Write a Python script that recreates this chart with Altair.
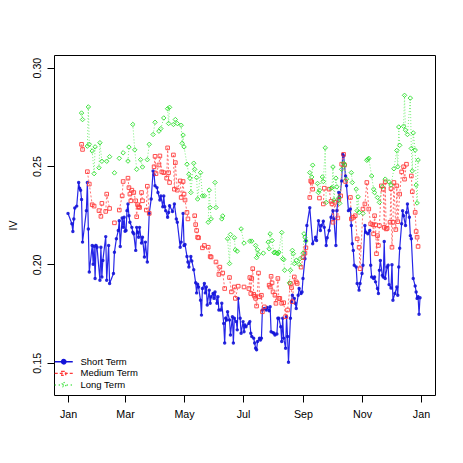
import altair as alt
import pandas as pd

# ---------------- data (day offset from 1 Jan, implied volatility) ----------------
series_names = ["Short Term", "Medium Term", "Long Term"]

short_days = [0,4,5,6,7,9,11,12,13,14,15,19,20,21,22,25,26,27,28,29,30,33,34,35,36,39,40,42,43,47,
              48,50,52,53,54,56,57,58,59,60,61,62,63,64,66,67,68,70,71,72,73,74,76,77,79,80,82,84,86,88,
              89,90,92,93,95,96,98,99,100,101,103,104,105,108,110,112,113,116,117,
              119,120,121,123,124,125,127,128,130,132,133,134,135,137,138,139,141,142,143,144,
              146,147,148,150,151,152,154,155,156,158,159,161,162,163,164,165,167,168,170,171,
              172,174,175,176,178,179,181,182,183,
              184,187,188,189,190,192,193,194,195,196,198,199,200,201,203,205,206,208,209,210,
              212,213,214,216,217,218,220,221,222,223,225,226,227,228,230,231,232,234,235,236,
              238,239,241,242,243,245,246,247,
              250,253,256,257,259,261,262,264,265,267,268,270,272,274,275,277,278,280,281,283,
              284,285,287,288,290,292,293,294,295,296,298,299,301,302,304,305,307,308,310,312,
              313,314,316,
              317,318,320,321,322,323,325,326,327,328,330,331,332,334,335,336,338,340,341,342,
              343,345,346,347,349,350,351,353,354,355,357,359,360,361,362,363,364]
short_iv = [.2259,.2206,.2167,.2231,.2286,.2296,.2416,.2387,.2377,.2330,.2113,.2273,.2416,.2180,.1961,.2096,.2000,.2092,.1928,.2096,
            .2087,.1919,.2087,.1936,.2020,.2141,.1919,.2096,.1903,.1953,.2062,.2130,.2172,.2222,.2091,.2236,.2188,.2239,.2168,.2172,
            .2273,.2307,.2247,.2214,.2188,.2163,.2155,.2071,.2188,.2163,.2138,.2188,.2108,.2138,.2037,.2113,.2012,.2259,.2332,.2475,
            .2455,.2399,.2390,.2365,.2327,.2348,.2293,.2348,.2293,.2273,.2239,.2264,.2298,.2269,.2307,.2231,.2214,.2087,.2113,
            .2259,.2096,.2101,.2040,.2012,.1986,.2040,.2017,.1973,.1906,.1855,.1899,.1885,.1818,.1742,.1877,.1903,.1855,.1885,.1793,
            .1869,.1802,.1835,.1852,.1827,.1860,.1802,.1835,.1768,.1768,.1802,.1700,.1600,.1726,.1717,.1759,.1717,.1641,.1734,.1600,
            .1726,.1709,.1667,.1827,.1726,.1650,.1709,.1658,.1692,
            .1683,.1700,.1709,.1650,.1633,.1625,.1600,.1574,.1566,.1608,.1625,.1616,.1625,.1768,.1776,.1768,.1781,.1764,.1784,.1658,
            .1653,.1650,.1641,.1646,.1726,.1726,.1683,.1608,.1726,.1625,.1574,.1734,.1633,.1502,.1726,.1810,.1843,.1827,.1802,.1776,
            .1843,.1877,.1852,.1860,.1928,.2029,.2121,.2197,
            .2288,.2105,.2138,.2121,.2222,.2172,.2197,.2219,.2188,.2096,.2135,.2172,.2239,.2273,.2231,.2096,.2273,.2365,.2340,.2424,
            .2559,.2551,.2449,.2399,.2273,.2281,.2197,.2105,.2071,.1995,.1986,.1903,.1869,.1903,.1953,.1995,.2197,.2163,.2155,.2172,
            .1995,.1936,.1928,
            .1936,.1911,.1877,.1852,.1970,.2020,.1944,.1936,.2116,.1928,.1986,.1995,.1897,.1880,.1998,.1818,.1852,.1885,.1843,.1986,
            .2082,.2206,.2273,.2247,.2197,.2264,.2307,.2239,.2146,.2130,.1928,.1890,.1860,.1827,.1835,.1746,.1830]

medium_days = [14,15,20,22,25,27,32,34,35,39,40,43,48,53,56,57,62,63,64,65,66,68,70,71,72,73,74,76,77,81,
               82,84,89,90,91,94,95,97,99,102,103,104,105,109,110,111,113,116,117,
               119,120,121,123,124,131,132,133,134,135,139,141,145,147,148,153,156,157,160,162,167,169,172,173,176,182,
               187,188,189,190,191,192,193,194,195,197,198,200,201,203,208,209,210,211,212,214,
               215,217,218,219,221,223,225,227,230,231,232,234,236,237,241,243,245,246,
               250,251,252,253,260,264,265,270,272,273,274,276,279,280,282,283,285,286,287,292,
               293,295,297,299,301,302,305,307,309,311,313,315,316,
               317,318,319,320,321,322,324,326,327,328,329,330,333,334,335,336,337,339,340,341,
               343,345,347,348,350,355,356,359,360,361,362]
medium_iv = [.2610,.2584,.2471,.2408,.2303,.2296,.2273,.2244,.2310,.2269,.2357,.2284,.2211,.2276,.2348,.2421,.2438,.2390,.2357,.2323,
             .2377,.2365,.2323,.2242,.2303,.2293,.2289,.2365,.2323,.2276,.2397,.2259,.2496,.2549,.2461,.2505,.2551,.2470,.2466,.2438,
             .2592,.2466,.2416,.2556,.2382,.2517,.2377,.2424,.2340,
             .2421,.2357,.2327,.2264,.2231,.2247,.2202,.2172,.2138,.2135,.2084,.2096,.2087,.2040,.2037,.2012,.1949,.1986,.1956,.1877,
             .1933,.1860,.1885,.1827,.1889,.1885,
             .1877,.1933,.1852,.1928,.1978,.1848,.1838,.1827,.1788,.1956,.1835,.1843,.1759,.1784,.1894,.1885,.1939,.1906,.1860,.1843,
             .1802,.1928,.1827,.1827,.1802,.1805,.1734,.1768,.1903,.1882,.1810,.1936,.1911,.1903,.1986,.2034,.2057,.2084,
             .2340,.2424,.2419,.2382,.2337,.2307,.2387,.2382,.2320,.2307,.2214,.2315,.2236,.2327,.2348,.2509,.2559,.2505,.2421,.2340,
             .2231,.2239,.2247,.2130,.2087,.1978,.2281,.2307,.2416,.2281,.2206,.2202,.2155,
             .2247,.2201,.2054,.2146,.2096,.2197,.2399,.2382,.2188,.2419,.2180,.2183,.2214,.2385,.2087,.2214,.2416,.2177,.2399,.2217,
             .2357,.2470,.2496,.2433,.2509,.2449,.2369,.2264,.2167,.2138,.2091]

long_days = [14,15,20,21,22,25,27,28,32,33,35,40,43,48,53,57,62,63,67,69,71,75,77,82,84,88,90,94,96,99,
             103,104,105,109,111,113,117,118,119,120,
             123,125,126,127,130,131,133,134,137,139,141,145,146,147,148,152,153,159,160,165,167,168,172,173,175,179,182,
             188,190,194,195,196,197,202,207,208,209,211,213,214,216,217,218,221,222,223,224,
             229,230,232,233,234,236,239,240,243,244,245,246,
             250,252,253,258,259,260,263,264,266,267,272,273,274,275,277,278,280,281,283,285,
             286,288,293,294,298,299,300,301,305,309,310,311,314,316,
             317,320,322,325,328,332,334,337,340,341,342,343,347,348,349,351,354,355,356,357,359,360,361,362]
long_iv = [.2769,.2736,.2601,.2800,.2610,.2576,.2461,.2597,.2491,.2618,.2524,.2524,.2547,.2465,.2539,.2567,.2525,.2596,.2711,.2582,
           .2483,.2532,.2495,.2532,.2610,.2660,.2722,.2677,.2690,.2744,.2791,.2716,.2798,.2711,.2736,.2716,.2707,.2615,.2657,.2597,
           .2509,.2458,.2438,.2365,.2514,.2483,.2441,.2332,.2466,.2348,.2348,.2214,.2377,.2289,.2231,.2416,.2289,.2231,.2246,.2130,
           .2004,.2152,.2135,.2074,.2067,.2180,.2108,
           .2118,.2118,.2096,.2034,.2074,.2051,.2057,.2113,.2079,.2155,.2121,.2059,.2062,.2057,.2054,.2062,.2162,.2029,.2024,.1970,
           .1906,.1970,.2071,.2054,.2004,.2020,.2000,.2029,.2057,.2155,.2138,.2118,
           .2466,.2444,.2504,.2411,.2365,.2377,.2444,.2421,.2592,.2315,.2387,.2390,.2495,.2327,.2438,.2394,.2337,.2310,.2483,.2515,
           .2505,.2433,.2466,.2416,.2382,.2273,.2343,.2264,.2259,.2529,.2534,.2539,.2449,.2382,
           .2365,.2340,.2315,.2395,.2433,.2419,.2403,.2486,.2579,.2496,.2698,.2605,.2702,.2859,.2682,.2660,.2845,.2589,.2475,.2668,
           .2581,.2403,.2312,.2530]

y_ticks = [0.15, 0.20, 0.25, 0.30]
x_tick_months = [(2013, 1), (2013, 3), (2013, 5), (2013, 7), (2013, 9), (2013, 11), (2014, 1)]

# ---------------- table ----------------
def frame(days, iv, name, gap):
    df = pd.DataFrame({"day": days, "iv": iv})
    df["date"] = (pd.Timestamp("2013-01-01") + pd.to_timedelta(df["day"], unit="D")).dt.strftime("%Y-%m-%d")
    df["series"] = name
    brk = (df["day"].diff().fillna(0) > gap).cumsum()
    df["seg"] = name + "_" + brk.astype(str)
    return df

df = pd.concat([
    frame(short_days, short_iv, series_names[0], 100),
    frame(medium_days, medium_iv, series_names[1], 3),
    frame(long_days, long_iv, series_names[2], 3),
], ignore_index=True)

FONT = "Liberation Sans"
line_colors = ["#2626e8", "#ff7070", "#7cf07c"]
line_widths = [1.2, 1.0, 1.0]
point_colors = ["#1414d8", "#ff3b3b", "#2ee02e"]
point_shapes = ["circle", "square", "diamond"]
point_sizes = [12, 13, 20]
dashes = [[1, 0], [2, 2], [1, 2]]

x_enc = alt.X(
    "date:T",
    scale=alt.Scale(type="utc", domain=[alt.DateTime(year=2012, month=12, date=17, hours=12, utc=True),
                                        alt.DateTime(year=2014, month=1, date=15, hours=12, utc=True)]),
    axis=alt.Axis(values=[alt.DateTime(year=yy, month=mm, date=1, utc=True) for yy, mm in x_tick_months],
                  labelExpr="utcFormat(datum.value, '%b')", title=None, grid=False, domain=False,
                  tickSize=7, tickColor="black", labelPadding=7, labelFont=FONT, labelFontSize=10.7,
                  labelColor="black", labelFlush=False),
)
y_enc = alt.Y(
    "iv:Q",
    scale=alt.Scale(domain=[0.1336, 0.3064], nice=False, zero=False),
    axis=alt.Axis(values=y_ticks, format=".2f", title="IV", grid=False, domain=False,
                  tickSize=7, tickColor="black", labelPadding=5, labelAngle=270, labelAlign="center",
                  labelBaseline="bottom", labelFont=FONT, labelFontSize=10.7, labelColor="black",
                  titleFont=FONT, titleFontSize=10.7, titleFontWeight="normal", titleColor="black",
                  titleAngle=270, titleX=-41, titleY=170, titleAlign="center", titleBaseline="middle"),
)

layers = []
# lines, one layer per series (broken where the series has gaps)
for name, col, w, dash in zip(series_names, line_colors, line_widths, dashes):
    layers.append(
        alt.Chart(df).transform_filter(alt.datum.series == name)
        .mark_line(color=col, strokeWidth=w, strokeDash=dash)
        .encode(x=x_enc, y=y_enc, detail="seg:N")
    )
# points, one layer per series
for i, (name, shp, col, sz) in enumerate(zip(series_names, point_shapes, point_colors, point_sizes)):
    layers.append(
        alt.Chart(df).transform_filter(alt.datum.series == name)
        .mark_point(shape=shp, filled=(i == 0), color=col, size=sz, strokeWidth=1, opacity=0.9)
        .encode(x=x_enc, y=y_enc)
    )

# legend: R-style line + symbol glyphs (legend-only layer, marks invisible)
legend_glyphs = [
    "M-4.5,0H4.5M-1.1,0A1.1,1.1 0 1,0 1.1,0A1.1,1.1 0 1,0 -1.1,0",
    "M-4.5,0H4.5M-1,-1H1V1H-1Z",
    "M-4.5,0H4.5M0,-1.3L1.3,0L0,1.3L-1.3,0Z",
]
leg = alt.Legend(title=None, orient="none", legendX=5, legendY=302, symbolSize=16,
                 symbolStrokeWidth=1.4, symbolOpacity=1, labelFont=FONT, labelFontSize=9.5,
                 labelColor="black", labelOffset=12, rowPadding=0.6)
legend_layer = alt.Chart(df).mark_point(opacity=0, filled=False).encode(
    x=x_enc, y=y_enc,
    color=alt.Color("series:N", scale=alt.Scale(domain=series_names, range=point_colors), legend=leg),
    shape=alt.Shape("series:N", scale=alt.Scale(domain=series_names, range=legend_glyphs), legend=leg),
    fill=alt.Fill("series:N", scale=alt.Scale(domain=series_names, range=[point_colors[0], "transparent", "transparent"]), legend=leg),
    strokeDash=alt.StrokeDash("series:N", scale=alt.Scale(domain=series_names, range=[[1, 0], [3, 2], [1, 3]]), legend=leg),
)
layers.append(legend_layer)

chart = alt.layer(*layers).properties(
    width=381, height=340,
    autosize=alt.AutoSizeParams(type="none"),
    padding={"left": 46, "top": 47, "right": 20, "bottom": 60},
    background="white",
).configure_view(stroke="black", strokeWidth=1)

chart.save("out.html", embed_options={"renderer": "svg", "actions": False})
